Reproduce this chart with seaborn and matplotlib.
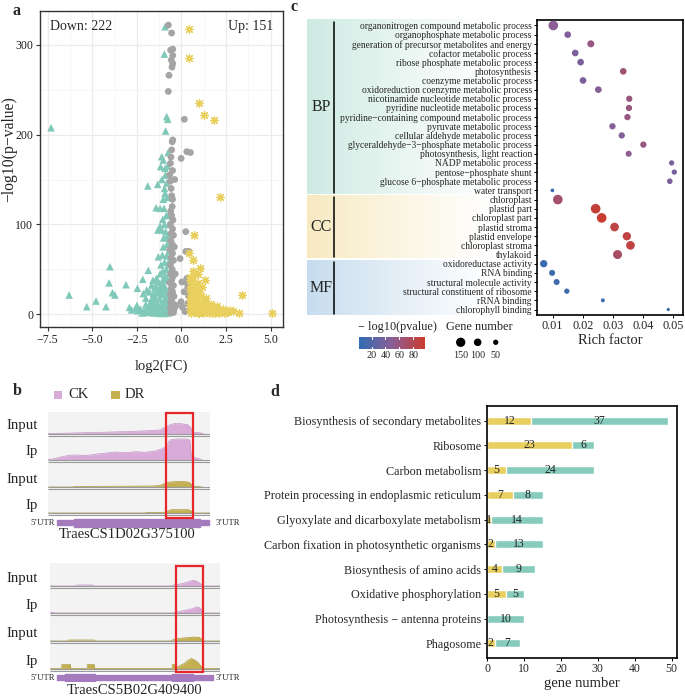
import numpy as np
import pandas as pd
import matplotlib
matplotlib.use("Agg")
import matplotlib.pyplot as plt
import seaborn as sns
from matplotlib.colors import LinearSegmentedColormap, Normalize, to_rgb
from matplotlib.patches import Rectangle
from matplotlib.cm import ScalarMappable

sns.set_theme(style="white")
plt.rcParams['font.family'] = ['Liberation Serif', 'DejaVu Serif']
plt.rcParams['axes.unicode_minus'] = True

# ---------------- data: panel a (volcano) ----------------
down_x = [-7.31, -6.30, -5.31, -4.79, -4.23, -4.01, -4.06, -3.87, -3.73, -3.11, -2.92, -2.47, -2.57,
          -2.17, -1.86, -1.89, -1.33, -1.42, -1.20, -1.02, -1.32, -1.11, -1.05, -1.11, -1.02, -1.17,
          -0.92, -0.89, -0.83, -0.77, -0.96, -0.92, -0.83, -0.98, -0.92, -1.02, -1.07, -1.30, -1.67,
          -1.95, -1.58, -2.14, -0.75, -0.72, -0.78, -0.70, -0.80, -0.72, -0.68, -0.75, -0.85, -0.70,
          -0.90, -1.00, -0.78, -1.10, -0.95, -1.20, -0.70, -1.35, -0.85, -1.05, -1.50, -0.75, -1.25,
          -0.95, -1.70, -1.10, -0.80, -1.40, -2.00, -1.60, -0.90, -1.20, -1.80, -2.30, -1.00, -1.45,
          -0.70, -2.10, -1.30, -1.70, -0.85, -2.45, -1.90, -1.10, -0.75, -1.55, -2.20, -1.25, -0.95,
          -1.95, -1.65, -1.35, -1.15, -0.88, -1.05, -1.15, -0.95, -0.82, -1.20, -1.40, -1.30, -1.60,
          -1.50, -1.80, -2.00, -1.75, -2.50, -2.80, -1.00, -0.88, -0.95, -1.20, -0.85, -0.95, -1.10,
          -0.90, -0.80, -0.78, -0.75, -1.45, -1.25, -0.98, -0.72, -1.85, -1.62, -1.38, -1.08, -0.86]
down_y = [207.6, 21.5, 8.5, 14.8, 8.5, 53, 35, 24, 21.5, 33, 7.8, 29, 6.7,
          39, 49, 142.8, 144.6, 118.6, 117.9, 128, 93.8, 93.8, 105.7, 175.4, 171.7, 164.3,
          162.4, 204, 220, 217, 289.6, 320, 146, 118, 134.6, 75, 66, 64, 32.6,
          27, 23, 23, 110, 100, 88, 85, 78, 70, 60, 55, 50, 45,
          42, 40, 38, 35, 30, 30, 28, 26, 25, 22, 20, 20, 18,
          16, 15, 14, 12, 12, 11, 10, 9, 8, 7, 6, 6, 5,
          5, 4, 3, 3, 3, 4, 2, 2, 1.5, 1.5, 1.5, 1, 1,
          5, 7, 9, 11, 18, 48, 55, 58, 65, 45, 40, 36, 38,
          30, 25, 18, 12, 10, 5, 85, 92, 100, 98, 110, 140, 150,
          155, 130, 165, 180, 16, 24, 33, 14, 3, 19, 29, 27, 8]

gray_x = [-0.74, -0.55, -0.61, -0.49, -0.49, -0.57, -0.49, -0.53, -0.70, -0.74, 0.16, 0.30, -0.02,
          -0.49, -0.52, -0.55, -0.59, -0.62, -0.50, -0.66, -0.63, -0.58, -0.55, -0.50, -0.52, -0.60,
          -0.55, -0.48, -0.62, -0.50, -0.58, -0.45, -0.60, -0.52, -0.65, -0.50, -0.58, -0.45, -0.62,
          -0.52, -0.60, -0.48, -0.55, -0.65, -0.45, -0.58, -0.50, -0.62, -0.42, -0.55, -0.60, -0.48,
          -0.52, -0.62, -0.40, -0.55, -0.45, -0.60, 0.24, 0.24, -0.08, 0.02, 0.21, -0.02, 0.30,
          0.35, 0.15, 0.40, 0.05, 0.35, 0.45, 0.20, -0.30, -0.35, -0.40, -0.38, 0.50, 0.42]
gray_y = [321.8, 313, 294, 295, 288, 283, 279, 275, 266, 248, 217, 181, 173.5,
          194, 192, 183, 175, 168, 160, 155, 148, 140, 132, 128, 120, 115,
          110, 105, 100, 95, 90, 88, 82, 78, 72, 68, 63, 60, 55,
          50, 45, 42, 38, 35, 32, 28, 25, 22, 20, 17, 14, 12,
          9, 7, 6, 4, 2, 1.5, 92, 70, 62, 36, 36, 14, 40,
          30, 25, 20, 8, 12, 5, 3, 10, 45, 75, 150, 180, 70]

up_x = [0.44, 0.44, 1.00, 1.26, 1.84, 2.16, 0.70, 0.42, 0.63, 1.04, 0.76, 3.37, 2.72, 3.24, 5.05,
        2.90, 2.50, 2.30, 0.45, 0.50, 0.55, 0.65, 0.70, 0.60, 0.80, 0.90, 0.55, 0.75, 1.00, 1.10,
        0.50, 0.65, 0.85, 1.20, 0.95, 1.35, 1.50, 0.60, 0.80, 1.10, 1.30, 1.60, 1.80, 2.00, 2.20,
        0.50, 0.70, 0.90, 1.20, 1.45, 1.70, 1.90, 2.10, 2.40, 0.55, 1.00, 1.55, 0.45, 0.58, 1.40,
        1.15, 0.95, 1.30, 0.62, 1.65, 2.00, 1.75, 0.75, 1.05, 2.60, 0.48, 0.68, 1.25, 1.85, 0.88]
up_y = [318, 285, 235, 222, 216, 131, 88, 68, 61, 52, 46, 21, 5, 2, 2,
        4, 3, 6, 42, 38, 35, 40, 33, 30, 28, 35, 25, 22, 25, 20,
        18, 15, 15, 15, 12, 12, 10, 8, 7, 8, 6, 7, 5, 4, 3,
        5, 3, 2, 2, 3, 2, 1.5, 1.5, 2, 1, 1, 1, 12, 20, 18,
        30, 45, 38, 48, 12, 9, 8, 10, 5, 3, 28, 18, 10, 4, 6]
n_down, n_up = 222, 151
volcano_xticks = [-7.5, -5.0, -2.5, 0.0, 2.5, 5.0]
volcano_yticks = [0, 100, 200, 300]

# ---------------- data: panel b (coverage tracks) ----------------
gene_names = ["TraesCS1D02G375100", "TraesCS5B02G409400"]
gene_tags = ["down", "up"]
track_labels = ["Input", "Ip", "Input", "Ip"]
track_groups = ["CK", "CK", "DR", "DR"]
cov1 = [
    ([0, 8, 20, 35, 50, 62, 69, 72, 75, 78, 82, 86, 88, 89.5, 93, 96],
     [0, 0.2, 0.7, 1.3, 2.0, 2.8, 3.5, 6, 8.5, 10, 9.8, 9, 6, 1.5, 0.8, 0]),
    ([0, 3, 8, 13, 18, 24, 30, 36, 42, 48, 54, 60, 66, 70, 73, 74.5, 76, 80, 85, 87.5, 88.5, 92, 95],
     [0, 0.5, 2.5, 4.2, 4.5, 4.0, 5.5, 6.5, 7.5, 6.8, 7.8, 7.2, 8.5, 10.5, 13, 18, 20, 20.5, 20.5, 19.5, 2.5, 1.2, 0]),
    ([0, 15, 17, 30, 50, 65, 69, 72, 75, 80, 85, 87.5, 89, 93, 95],
     [0, 0, 0.6, 0.7, 0.8, 1.0, 1.5, 3.5, 5.0, 5.5, 5.3, 4.5, 1.0, 0.5, 0]),
    ([0, 60, 61, 73, 74.5, 76, 86.5, 88, 89, 100],
     [0, 0, 0.6, 0.7, 2.5, 3.3, 3.3, 2.5, 0, 0]),
]
cov2 = [
    ([0, 15, 16, 25, 26, 71, 72, 75, 78, 81, 84, 86, 88, 89, 90, 100],
     [0, 0, 1, 1, 0, 0, 0.8, 1.5, 2.5, 4, 5.8, 5, 3, 1.5, 0, 0]),
    ([0, 1, 2, 3, 72, 73, 76, 80, 84, 86, 88, 89.5, 90.5, 100],
     [0, 0.5, 0.5, 0, 0, 0.6, 1.5, 2.8, 4.5, 6, 5.5, 2.5, 0, 0]),
    ([0, 10.5, 11, 26, 26.5, 71, 72, 74, 78, 82, 85, 88, 89, 90, 100],
     [0, 0, 1, 1, 0, 0, 1, 2, 3, 3.5, 4, 3.5, 2, 0, 0]),
    ([0, 6.8, 7, 12, 12.2, 21.8, 22, 26, 26.2, 71.8, 72, 74, 74.5, 75.5, 77, 79, 81, 83, 85, 87, 88.5, 89.5, 100],
     [0, 0, 4, 4, 0, 0, 4, 4, 0, 0, 4, 4, 1, 2, 3.5, 5, 8, 10, 8.5, 6, 3, 0, 0]),
]
gene1_utr = (5.6, 99.4); gene1_cds = [(16, 93.8)]; gene1_box = (72.8, 89.7)
gene2_utr = (4.1, 95.9); gene2_cds = [(8.8, 26.5), (72, 84)]; gene2_box = (74, 90)

# ---------------- data: panel c (GO dot plot) ----------------
go_terms = ["organonitrogen compound metabolic process", "organophosphate metabolic process",
            "generation of precursor metabolites and energy", "cofactor metabolic process",
            "ribose phosphate metabolic process", "photosynthesis", "coenzyme metabolic process",
            "oxidoreduction coenzyme metabolic process", "nicotinamide nucleotide metabolic process",
            "pyridine nucleotide metabolic process", "pyridine\u2212containing compound metabolic process",
            "pyruvate metabolic process", "cellular aldehyde metabolic process",
            "glyceraldehyde\u22123\u2212phosphate metabolic process", "photosynthesis, light reaction",
            "NADP metabolic process", "pentose\u2212phosphate shunt",
            "glucose 6\u2212phosphate metabolic process", "water transport",
            "chloroplast", "plastid part", "chloroplast part", "plastid stroma", "plastid envelope",
            "chloroplast stroma", "thylakoid",
            "oxidoreductase activity", "RNA binding", "structural molecule activity",
            "structural constituent of ribosome", "rRNA binding", "chlorophyll binding"]
go_class = ["BP"] * 19 + ["CC"] * 7 + ["MF"] * 6
go_rich = [0.0102, 0.0150, 0.0227, 0.0175, 0.0193, 0.0335, 0.0201, 0.0252, 0.0355, 0.0354,
           0.0349, 0.0299, 0.0330, 0.0402, 0.0353, 0.0496, 0.0505, 0.0490, 0.0099,
           0.0117, 0.0243, 0.0263, 0.0306, 0.0347, 0.0359, 0.0316,
           0.0070, 0.0098, 0.0113, 0.0147, 0.0267, 0.0485]
go_logp = [50, 45, 58, 42, 42, 64, 42, 47, 60, 60, 58, 47, 47, 60, 52, 40, 40, 42, 6,
           68, 92, 95, 86, 88, 88, 72,
           8, 10, 10, 10, 8, 8]
go_count = [170, 78, 86, 78, 78, 78, 78, 78, 70, 70, 70, 70, 70, 70, 64, 50, 50, 56, 25,
            200, 163, 170, 131, 120, 131, 140,
            93, 64, 64, 50, 29, 20]
go_xticks = [0.01, 0.02, 0.03, 0.04, 0.05]
pval_ticks = [20, 40, 60, 80]
size_legend = [150, 100, 50]

# ---------------- data: panel d (KEGG stacked bars) ----------------
kegg_terms = ["Biosynthesis of secondary metabolites", "Ribosome", "Carbon metabolism",
              "Protein processing in endoplasmic reticulum", "Glyoxylate and dicarboxylate metabolism",
              "Carbon fixation in photosynthetic organisms", "Biosynthesis of amino acids",
              "Oxidative phosphorylation", "Photosynthesis \u2212 antenna proteins", "Phagosome"]
kegg_up = [12, 23, 5, 7, 1, 2, 4, 5, 0, 2]
kegg_down = [37, 6, 24, 8, 14, 13, 9, 5, 10, 7]
kegg_xticks = [0, 10, 20, 30, 40, 50]

# ---------------- styling ----------------
TEAL = "#80C8B8"; GRAY = "#A4A4A4"; YEL = "#E8CF5E"
BAR_UP = "#E8CF60"; BAR_DOWN = "#86CBBC"
CK_COL = "#D9ABD9"; CK_EDGE = "#C592C8"; DR_COL = "#C4B050"; DR_EDGE = "#A99632"
GENE_COL = "#A57BBE"
cmap = LinearSegmentedColormap.from_list("pv", ["#2F6DB3", "#8A5E95", "#CC3B2E"])
pnorm = Normalize(2, 97)
SIZES = (2.4, 48); SIZE_NORM = (10, 160)

def size_of(g):
    g = np.asarray(g, float)
    return SIZES[0] + (g - SIZE_NORM[0]) / (SIZE_NORM[1] - SIZE_NORM[0]) * (SIZES[1] - SIZES[0])

W, H = 685, 698
fig = plt.figure(figsize=(W / 100, H / 100), dpi=100)

def px_axes(l, t, r, b, **kw):
    return fig.add_axes([l / W, 1 - b / H, (r - l) / W, (b - t) / H], **kw)

bg = px_axes(0, 0, W, H, zorder=-10)
bg.set_facecolor("none")

# ================= panel a =================
axa = px_axes(40, 11, 283, 327)
sns.scatterplot(x=down_x, y=down_y, marker="^", color=TEAL, s=30, edgecolor="none", ax=axa, zorder=3)
sns.scatterplot(x=gray_x, y=gray_y, marker="o", color=GRAY, s=24, edgecolor="none", ax=axa, zorder=3)
sns.scatterplot(x=up_x, y=up_y, marker=(8, 2, 0), color=YEL, edgecolor=YEL, s=30, linewidth=0.9, ax=axa, zorder=3)
axa.set_xlim(-7.93, 5.69)
axa.set_ylim(-14.1, 337.5)
axa.set_xticks(volcano_xticks)
axa.set_xticklabels([f"{v:.1f}".replace("-", "\u2212") for v in volcano_xticks])
axa.set_yticks(volcano_yticks)
axa.set_xticks([v + 1.25 for v in volcano_xticks[:-1]], minor=True)
axa.set_yticks([50, 150, 250], minor=True)
axa.grid(which="major", color="#EBEBEB", lw=0.9)
axa.grid(which="minor", color="#F3F3F3", lw=0.5)
axa.set_axisbelow(True)
for s in axa.spines.values():
    s.set_color("#333333"); s.set_linewidth(1.0)
axa.tick_params(which="major", direction="out", length=3, width=0.8, color="#333333",
                labelsize=8.6, labelcolor="#222222", bottom=True, left=True, pad=2)
axa.tick_params(which="minor", length=0)
axa.set_xlabel("log2(FC)", fontsize=10.5, labelpad=10)
axa.set_ylabel("\u2212log10(p\u2212value)", fontsize=11.3)
axa.yaxis.set_label_coords(-0.095, 0.563)
axa.text(0.041, 0.95, f"Down: {n_down}", transform=axa.transAxes, fontsize=10, ha="left", va="center")
axa.text(0.958, 0.95, f"Up: {n_up}", transform=axa.transAxes, fontsize=10, ha="right", va="center")

# ================= panel b =================
def draw_gene(l, t, r, b, bases, covs, utr, cds, box, model_y, box_y):
    ax = px_axes(l, t, r, b)
    ax.set_facecolor("none")
    ax.set_xlim(0, 100)
    ax.set_ylim(b, t)
    ax.axis("off")
    ax.add_patch(Rectangle((0, t), 100, bases[-1] + 3.2 - t, color="#F3F3F3", lw=0, zorder=0))
    for (xs, ys), base, grp in zip(covs, bases, track_groups):
        col, ec = (CK_COL, CK_EDGE) if grp == "CK" else (DR_COL, DR_EDGE)
        ys = np.asarray(ys)
        ax.fill_between(xs, base, base - ys, color=col, lw=0, zorder=2)
        ax.plot(xs, base - ys, color=ec, lw=0.5, zorder=2)
        ax.hlines([base, base + 2.4], 0, 100, color="#9A9A9A", lw=0.8, zorder=3)
    ax.broken_barh([(utr[0], utr[1] - utr[0])], (model_y - 2.4, 4.8), color=GENE_COL, zorder=2)
    ax.broken_barh([(c0, c1 - c0) for c0, c1 in cds], (model_y - 4, 8), color=GENE_COL, zorder=2)
    ax.add_patch(Rectangle((box[0], box_y[0]), box[1] - box[0], box_y[1] - box_y[0], fill=False,
                           ec="#E8262A", lw=1.6, zorder=5, clip_on=False))
    return ax

bases1 = [433.5, 459.5, 487, 513]
bases2 = [586, 613, 641, 668.5]
draw_gene(48, 412, 210, 528, bases1, cov1, gene1_utr, gene1_cds, gene1_box, 522.7, (413, 518.3))
draw_gene(50, 563, 220, 682, bases2, cov2, gene2_utr, gene2_cds, gene2_box, 677.5, (566, 671.7))

for bases in (bases1, bases2):
    for lab, base in zip(track_labels, bases):
        bg.text(38, base - 7.5, lab, fontsize=10.7, ha="right", va="center")
for yy in (522.7, 677.5):
    bg.text(55, yy, "5\u2019UTR", fontsize=6.2, ha="right", va="center")
    bg.text(216, yy, "3\u2019UTR", fontsize=6.2, ha="left", va="center")
bg.text(127, 535, gene_names[0], fontsize=10.5, ha="center", va="center")
bg.text(135, 690.5, gene_names[1], fontsize=10.5, ha="center", va="center")
bg.text(118, 476, gene_tags[0], fontsize=11.5, ha="center", va="center")
bg.text(108, 626, gene_tags[1], fontsize=11.5, ha="center", va="center")
bg.add_patch(Rectangle((54, 390.7), 8.5, 8.5, color=CK_COL, lw=0))
bg.text(68, 395, "CK", fontsize=10.5, ha="left", va="center")
bg.add_patch(Rectangle((111.5, 390.7), 8.5, 8.5, color=DR_COL, lw=0))
bg.text(125, 395, "DR", fontsize=10.5, ha="left", va="center")

# ================= panel c =================
C_T, C_B = 20, 315
C_Y0, C_Y1 = -0.6, len(go_terms) - 1 + 0.6
axc = px_axes(537, C_T, 683, C_B)
go = pd.DataFrame({"term": go_terms, "cls": go_class, "rich": go_rich, "logp": go_logp, "count": go_count})
go["row"] = np.arange(len(go))
sns.scatterplot(data=go, x="rich", y="row", hue="logp", palette=cmap, hue_norm=pnorm,
                size="count", sizes=SIZES, size_norm=SIZE_NORM, edgecolor="none",
                legend=False, ax=axc, zorder=3)
axc.set_ylim(C_Y1, C_Y0)
axc.set_xlim(0.00477, 0.0534)
axc.set_yticks(go["row"])
axc.set_yticklabels(go_terms, fontsize=6.85)
axc.set_xticks(go_xticks)
axc.set_xticklabels([f"{v:.2f}" for v in go_xticks], fontsize=8.8)
axc.tick_params(direction="out", length=2.2, width=0.7, color="black", bottom=True, left=True, pad=1.5)
for s in axc.spines.values():
    s.set_color("black"); s.set_linewidth(1.2)
axc.set_xlabel("Rich factor", fontsize=10.5, labelpad=1.5)
axc.set_ylabel("")

def row_px(r):
    return C_T + (r - C_Y0) / (C_Y1 - C_Y0) * (C_B - C_T)

band_cols = {"BP": "#CDEAE2", "CC": "#F7E9C0", "MF": "#C6DCEE"}
classes = ["BP", "CC", "MF"]
for i, cl in enumerate(classes):
    rows = go.index[go["cls"] == cl]
    y0 = row_px(rows.min() - 0.5) + (0 if i == 0 else 0.9)
    y1 = row_px(rows.max() + 0.5) - (0 if i == len(classes) - 1 else 0.9)
    if i == 0:
        y0 = row_px(C_Y0)
    if i == len(classes) - 1:
        y1 = row_px(C_Y1)
    rgb = np.array(to_rgb(band_cols[cl]))
    tt = np.linspace(0, 1, 256)
    fade = np.clip(tt / 0.8, 0, 1) ** 0.9
    arr = rgb[None, :] * (1 - fade[:, None]) + fade[:, None]
    bg.imshow(arr[None, :, :], extent=(307, 536, y1, y0), aspect="auto", interpolation="bilinear", zorder=0)
    bg.plot([334.5, 334.5], [y0 + 1.5, y1 - 1.5], color="black", lw=1.1, zorder=2)
    bg.text(321, (y0 + y1) / 2, cl, fontsize=11.5, ha="center", va="center", zorder=3)

# colour legend
cax = px_axes(359, 336.7, 425, 349)
cb = fig.colorbar(ScalarMappable(norm=pnorm, cmap=cmap), cax=cax, orientation="horizontal")
cb.outline.set_visible(False)
cb.set_ticks(pval_ticks)
cax.tick_params(length=0, labelsize=7.3, pad=1.5)
for v in pval_ticks:
    cax.axvline(v, ymin=0, ymax=0.2, color="white", lw=0.8)
    cax.axvline(v, ymin=0.8, ymax=1, color="white", lw=0.8)
bg.text(358, 327, "\u2212 log10(pvalue)", fontsize=8.8, ha="left", va="center")
bg.text(446.5, 327, "Gene number", fontsize=8.8, ha="left", va="center")
leg_x = [460.7, 477.7, 495.7]
bg.scatter(leg_x, [342.3] * 3, s=size_of(size_legend), color="black", lw=0)
for xx, g in zip(leg_x, size_legend):
    bg.text(xx, 355, str(g), fontsize=7.3, ha="center", va="center")

# ================= panel d =================
axd = px_axes(486.5, 405.7, 676.7, 658.3)
kegg = pd.DataFrame({"pathway": kegg_terms, "up": kegg_up, "down": kegg_down})
kegg["total"] = kegg["up"] + kegg["down"]
sns.barplot(data=kegg, x="total", y="pathway", color=BAR_DOWN, saturation=1, width=0.32, ax=axd, zorder=2)
sns.barplot(data=kegg, x="up", y="pathway", color=BAR_UP, saturation=1, width=0.32, ax=axd, zorder=2)
axd.set_xlim(-0.2, 51.4)
axd.set_ylim(len(kegg) - 1 + 0.6, -0.6)
axd.set_xticks(kegg_xticks)
axd.set_xticklabels([str(v) for v in kegg_xticks], fontsize=8.5)
axd.tick_params(axis="y", labelsize=8.7)
axd.tick_params(direction="out", length=2.2, width=0.7, color="black", bottom=True, left=True, pad=1.5)
for s in axd.spines.values():
    s.set_color("black"); s.set_linewidth(1.2)
axd.set_xlabel("gene number", fontsize=10.5, labelpad=1)
axd.set_ylabel("")
for i, (u, d) in enumerate(zip(kegg_up, kegg_down)):
    if u > 0:
        axd.text(u / 2, i, str(u), fontsize=8.5, ha="center", va="center", zorder=4)
    if d > 0:
        axd.text(u + d / 2, i, str(d), fontsize=8.5, ha="center", va="center", zorder=4)
bg.add_patch(Rectangle((623.3, 615), 9.4, 8.7, color=BAR_UP, lw=0))
bg.text(638.5, 619.3, "up", fontsize=8.8, ha="left", va="center")
bg.add_patch(Rectangle((623.3, 636.7), 9.4, 8.7, color=BAR_DOWN, lw=0))
bg.text(638.5, 641, "down", fontsize=8.8, ha="left", va="center")

# panel letters
for lab, (xx, yy) in {"a": (17, 11), "b": (17, 391), "c": (294, 7), "d": (275, 392)}.items():
    bg.text(xx, yy, lab, fontsize=11.5, fontweight="bold", ha="center", va="center")

bg.set_xlim(0, W)
bg.set_ylim(H, 0)
bg.axis("off")

fig.savefig("out.png", dpi=100)
